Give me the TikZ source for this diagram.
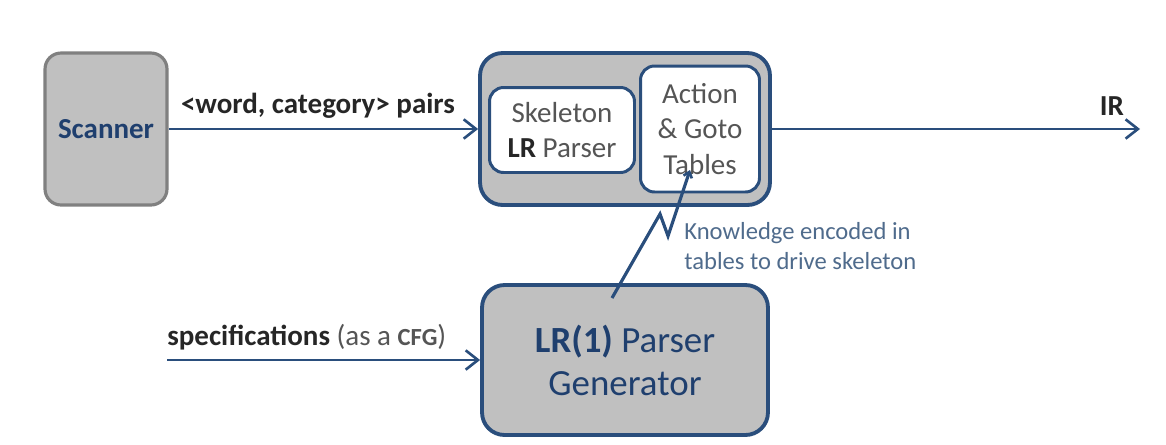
\documentclass[tikz,border=0pt]{standalone}
\usepackage{fontspec}
\setmainfont{Carlito}
\usetikzlibrary{arrows.meta}
\definecolor{dblue}{HTML}{2A4E7C}
\definecolor{tblue}{HTML}{1F3F6E}
\definecolor{boxgray}{HTML}{C0C0C0}
\definecolor{edgegray}{HTML}{808080}
\definecolor{txtgray}{HTML}{555555}
\definecolor{noteblue}{HTML}{4F6B8C}
\tikzset{
  conn/.style={draw=dblue, line width=1.5pt, -{Straight Barb[length=7pt,width=11pt,line width=1.5pt]}},
  graybox/.style={rectangle, fill=boxgray, draw=edgegray, line width=1.8pt, rounded corners=0.32cm, inner sep=0pt},
  bluebox/.style={rectangle, fill=boxgray, draw=dblue, line width=2.2pt, rounded corners=0.45cm, inner sep=0pt},
  whitebox/.style={rectangle, fill=white, draw=dblue, line width=1.7pt, rounded corners=0.28cm, inner sep=0pt},
  lbl/.style={inner sep=0pt, font=\fontsize{16.5}{19}\selectfont\bfseries, text=black!85}
}
\begin{document}
\begin{tikzpicture}[x=0.02cm,y=-0.02cm]
\useasboundingbox (0,0) rectangle (1166,444);
% Scanner
\node[graybox, minimum width=2.44cm, minimum height=3.04cm, text=tblue, font=\fontsize{16.5}{19}\selectfont\bfseries] (scan) at (106,129) {Scanner};
% Outer parser box
\node[bluebox, minimum width=5.8cm, minimum height=3.04cm] (outer) at (625,129) {};
\node[whitebox, minimum width=2.9cm, minimum height=1.7cm, text=txtgray, align=center, font=\fontsize{16.5}{20}\selectfont] (skel) at (562,130) {Skeleton\\\textbf{\color{black!85}LR} Parser};
\node[whitebox, minimum width=2.38cm, minimum height=2.52cm, text=txtgray, align=center, font=\fontsize{16.5}{20}\selectfont] (tab) at (700,129) {Action\\\& Goto\\Tables};
% Generator
\node[bluebox, minimum width=5.72cm, minimum height=3.0cm, text=tblue, align=center, font=\fontsize{21}{24.5}\selectfont] (gen) at (625,360) {\textbf{LR(1)} Parser\\Generator};
% IR end and spec start
\coordinate (irend) at (1140,129);
\coordinate (specstart) at (167,360);
% connectors
\draw[conn] (scan.east) -- (outer.west);
\draw[conn] (outer.east) -- (irend);
\draw[conn] (specstart) -- (gen.west);
\coordinate (zz0) at (612,298);
\coordinate (zz1) at (660,214);
\coordinate (zz2) at (668,236);
\coordinate (zzend) at (690,170);
\draw[draw=dblue, line width=1.8pt, line join=miter, -{Straight Barb[length=3pt,width=5pt,line width=1.5pt]}] (zz0) -- (zz1) -- (zz2) -- (zzend);
% labels
\node[lbl] (l1) at (318,106) {<word, category> pairs};
\node[lbl] (l2) at (1112,106) {IR};
\node[lbl, anchor=west] (l3) at (167,337) {specifications \mdseries\color{txtgray}(as a \textbf{\fontsize{14}{16}\selectfont CFG})};
\node[anchor=west, text=noteblue, align=left, inner sep=0pt, font=\fontsize{14}{17}\selectfont] (note) at (684,246) {Knowledge encoded in\\tables to drive skeleton};
\end{tikzpicture}
\end{document}
